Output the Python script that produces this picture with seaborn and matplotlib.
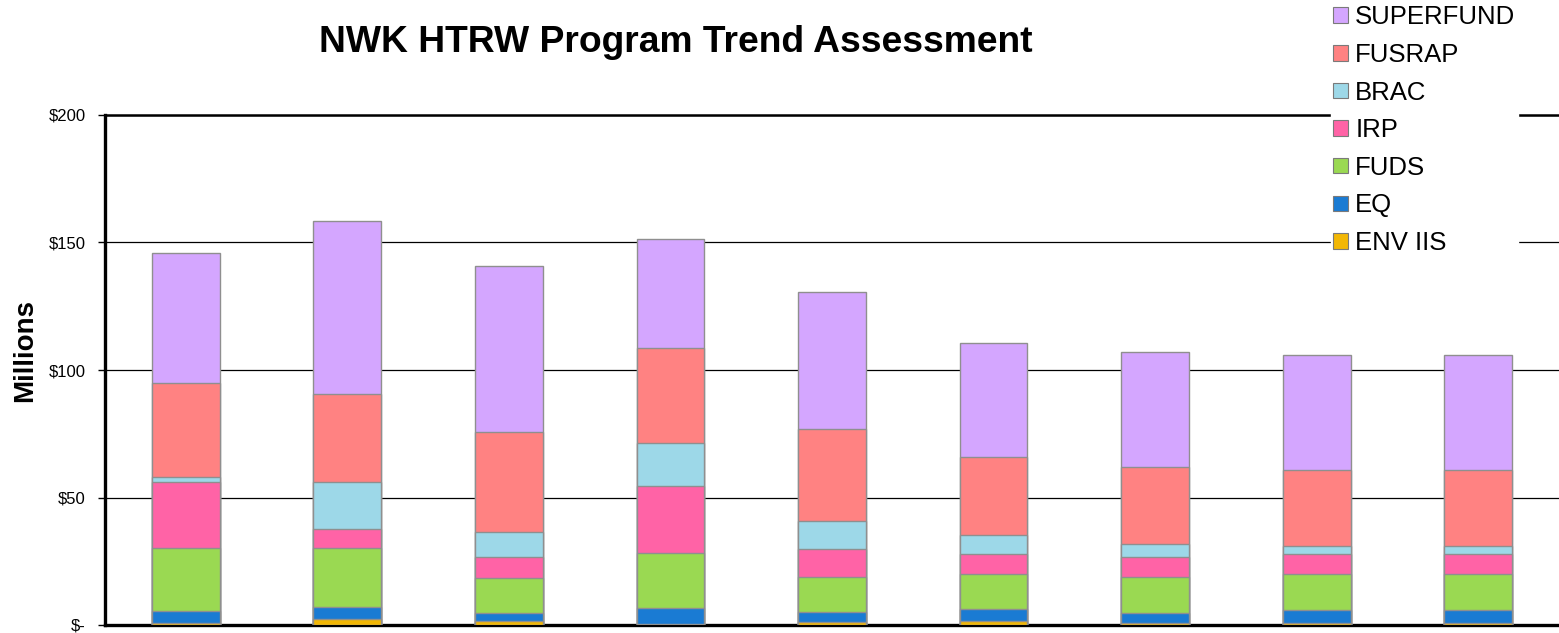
import numpy as np
import pandas as pd
import matplotlib
matplotlib.use('Agg')
import matplotlib.pyplot as plt
import seaborn as sns
from matplotlib.patches import Patch
from matplotlib.ticker import FuncFormatter

# ---------------------------------------------------------------------------- #
# DATA (millions of $)                                     #
# ---------------------------------------------------------------------------- #
periods = ['P1', 'P2', 'P3', 'P4', 'P5', 'P6', 'P7', 'P8', 'P9']
env_iis = [0.6, 2.3, 1.6, 0.5, 1.3, 1.6, 0.9, 0.9, 0.9]
eq = [5.0, 4.6, 3.0, 6.0, 3.8, 4.5, 3.9, 5.0, 5.0]
fuds = [24.7, 23.4, 14.0, 21.7, 13.8, 13.8, 14.1, 14.1, 14.1]
irp = [25.9, 7.5, 7.9, 26.4, 11.0, 7.9, 7.9, 7.8, 7.8]
brac = [1.7, 18.2, 9.8, 16.6, 10.8, 7.6, 5.0, 3.3, 3.3]
fusrap = [36.9, 34.5, 39.5, 37.3, 36.0, 30.6, 30.3, 29.7, 29.7]
superfund = [51.2, 68.0, 65.1, 42.9, 54.0, 44.7, 44.8, 45.1, 45.1]

series_names = ['ENV IIS', 'EQ', 'FUDS', 'IRP', 'BRAC', 'FUSRAP', 'SUPERFUND']
series_colors = ['#F2B705', '#1A7BD3', '#9AD952', '#FF63A6', '#9DD8E8', '#FF8282', '#D4A6FF']
yticks = [0, 50, 100, 150, 200]

df = pd.DataFrame({'period': periods, 'ENV IIS': env_iis, 'EQ': eq, 'FUDS': fuds,
                   'IRP': irp, 'BRAC': brac, 'FUSRAP': fusrap, 'SUPERFUND': superfund})
cum = df[series_names].cumsum(axis=1)
cum['period'] = df['period']

# ---------------------------------------------------------------------------- #
# PLOT                                                                         #
# ---------------------------------------------------------------------------- #
sns.set_theme(style='white')
plt.rcParams['font.family'] = ['Liberation Sans', 'DejaVu Sans']
plt.rcParams['text.color'] = 'black'
plt.rcParams['ytick.color'] = 'black'
plt.rcParams['ytick.labelcolor'] = 'black'

fig = plt.figure(figsize=(15.59, 6.33), dpi=100)
ax = fig.add_axes([105/1559, 8/633, 1454/1559, 510/633])

# stacked: draw cumulative totals, tallest first
for name, col in reversed(list(zip(series_names, series_colors))):
    sns.barplot(data=cum, x='period', y=name, order=periods, color=col,
                width=0.42, edgecolor='#8f8f8f', linewidth=1.0, saturation=1,
                ax=ax, zorder=3)

ax.set_xlim(-0.5, 8.5)
ax.set_ylim(0, 200)
ax.set_yticks(yticks)
ax.yaxis.set_major_formatter(FuncFormatter(lambda v, p: '$-' if v == 0 else '${:d}'.format(int(v))))
ax.set_xticks([])
ax.set_xlabel('')
ax.set_ylabel('')
ax.yaxis.grid(True, color='black', linewidth=0.9)
ax.set_axisbelow(True)
ax.tick_params(axis='y', left=True, length=5, width=1, color='black', pad=9,
               labelsize=12, labelcolor='black')

for s in ['left', 'bottom']:
    ax.spines[s].set_color('black')
    ax.spines[s].set_linewidth(2.4)
ax.spines['top'].set_color('black')
ax.spines['top'].set_linewidth(1.8)
ax.spines['right'].set_visible(False)

fig.text(676/1559, 1 - 42/633, 'NWK HTRW Program Trend Assessment', ha='center', va='center',
         fontsize=26.8, fontweight='bold', color='black')
fig.text(25/1559, 1 - 350/633, 'Millions', rotation=90, ha='center', va='center',
         fontsize=20, fontweight='bold', color='black')

handles = [Patch(facecolor=c, edgecolor='#7a7a7a', linewidth=0.8) for c in series_colors]
leg = fig.legend(handles[::-1], series_names[::-1], loc='upper left',
                 bbox_to_anchor=(1318/1559, 1.016), frameon=True, fancybox=False,
                 facecolor='white', edgecolor='white', framealpha=1,
                 fontsize=18.5, handlelength=0.55, handleheight=0.55,
                 handletextpad=0.3, labelspacing=0.53, borderpad=0.1)
for t in leg.get_texts():
    t.set_color('black')

fig.savefig('out.png', dpi=100)
